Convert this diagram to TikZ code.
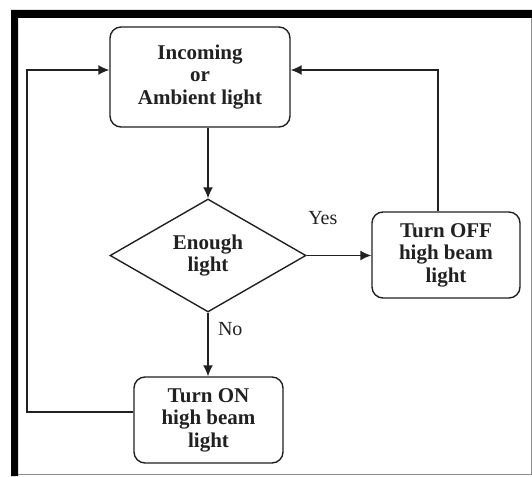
\documentclass[tikz,border=0pt]{standalone}
\usepackage{fontspec}
\setmainfont{Liberation Serif}
\usepackage{tikz}
\usetikzlibrary{shapes.geometric,arrows.meta}
\definecolor{ink}{rgb}{0.13, 0.13, 0.13}
\definecolor{edge gray}{rgb}{0.55, 0.55, 0.55}

\begin{document}
\begin{tikzpicture}[x=1pt, y=-1pt,
		every node/.style={text=ink},
		stagebox/.style={draw=ink, line width=1.4pt, rounded corners=11pt,
			align=center, font=\bfseries\fontsize{21}{22.5}\selectfont, inner sep=0pt},
		testbox/.style={draw=ink, line width=1.4pt, diamond, shape aspect=1.73,
			align=center, font=\bfseries\fontsize{21}{22.5}\selectfont, inner sep=0pt,
			minimum width=196pt, minimum height=113pt},
		flow/.style={draw=ink, line width=1.4pt, -{Latex[length=11pt, width=10pt]}},
		answer/.style={font=\fontsize{20}{22}\selectfont}]
		\useasboundingbox (0, 0) rectangle (532, 476);
		% frame
		\fill[black] (11, 10) rectangle (532, 18)
			(11, 10) rectangle (18, 476);
		\draw[edge gray, line width=1pt] (531, 18) -- (531, 474) -- (18, 474);
		% steps
		\node[stagebox, minimum width=180pt, minimum height=100pt] (light) at (200, 77)
			{Incoming\\or\\Ambient light};
		\node[testbox] (enough) at (208, 255.5) {Enough\\light};
		\node[stagebox, minimum width=148pt, minimum height=86pt] (beamoff) at (446, 255)
			{Turn OFF\\high beam\\light};
		\node[stagebox, minimum width=149pt, minimum height=86pt] (beamon) at (208.5, 420)
			{Turn ON\\high beam\\light};
		% loop corners
		\coordinate (lowleft) at (27, 412);
		\coordinate (upleft) at (27, 70);
		\coordinate (upright) at (438, 70);
		% arrows
		\draw[flow] (enough.north |- light.south) -- (enough.north);
		\draw[flow] (enough.east) -- (enough.east -| beamoff.west)
			node [answer, pos=0.25, above=27pt] {Yes};
		\draw[flow] (enough.south) -- (enough.south |- beamon.north)
			node [answer, pos=0.25, right=6pt] {No};
		\draw[flow] (upright |- beamoff.north) -- (upright) -- (upright -| light.east);
		\draw[flow] (lowleft -| beamon.west) -- (lowleft) -- (upleft) -- (upleft -| light.west);
	\end{tikzpicture}
\end{document}
